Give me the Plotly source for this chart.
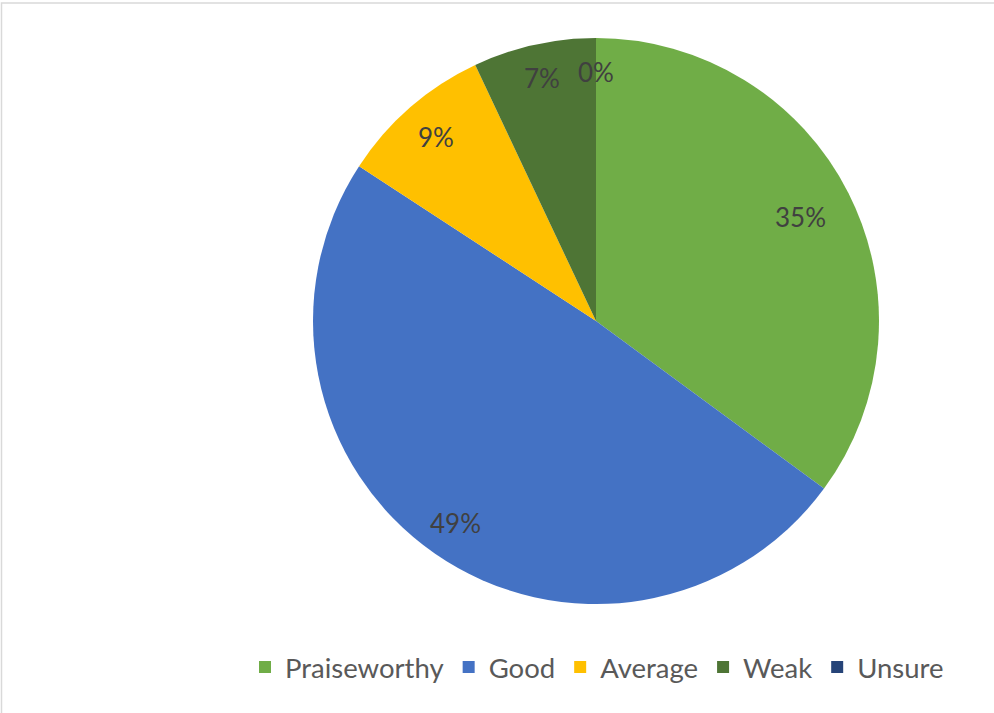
import math
import plotly.graph_objects as go

# ---- data ----
categories = ["Praiseworthy", "Good", "Average", "Weak", "Unsure"]
counts = [20, 28, 5, 4, 0]

# ---- style ----
colors = ["#70AD47", "#4472C4", "#FFC000", "#4E7535", "#264478"]
label_radius_frac = [0.81, 0.87, 0.86, 0.88, 0.88]
W, H = 994, 713
DOMAIN_X = [313 / W, 879 / W]
DOMAIN_Y = [1 - 604 / H, 1 - 38 / H]
FONT = "Lato"

fig = go.Figure()
fig.add_trace(go.Pie(
    labels=categories,
    values=counts,
    sort=False,
    direction="clockwise",
    rotation=0,
    marker=dict(colors=colors, line=dict(color="white", width=0)),
    textinfo="none",
    hoverinfo="label+percent",
    domain=dict(x=DOMAIN_X, y=DOMAIN_Y),
))

# data labels placed along slice bisectors
total = sum(counts)
cx = (DOMAIN_X[0] + DOMAIN_X[1]) / 2
cy = (DOMAIN_Y[0] + DOMAIN_Y[1]) / 2
rx = (DOMAIN_X[1] - DOMAIN_X[0]) / 2
ry = (DOMAIN_Y[1] - DOMAIN_Y[0]) / 2
cum = 0
for v, f in zip(counts, label_radius_frac):
    mid = (cum + v / 2) / total * 2 * math.pi
    cum += v
    fig.add_annotation(
        x=cx + rx * f * math.sin(mid),
        y=cy + ry * f * math.cos(mid),
        xref="paper", yref="paper",
        text=f"{round(100 * v / total)}%",
        showarrow=False,
        font=dict(family=FONT, size=26, color="#404040"),
        xanchor="center", yanchor="middle",
    )

# chart border (top/left visible)
fig.add_shape(type="rect", xref="paper", yref="paper",
              x0=1.5 / W, x1=1.05, y0=-0.05, y1=1 - 3 / H,
              line=dict(color="#D9D9D9", width=1.5), layer="below")

fig.update_layout(
    width=W, height=H,
    margin=dict(l=0, r=0, t=0, b=0),
    paper_bgcolor="white",
    plot_bgcolor="white",
    showlegend=True,
    legend=dict(
        orientation="h",
        x=597 / W, xanchor="center",
        y=1 - 667 / H, yanchor="middle",
        font=dict(family=FONT, size=27.5, color="#595959"),
        itemsizing="constant",
        traceorder="normal",
    ),
)

fig.write_html(
    "out.html",
    config={"displayModeBar": False},
    post_script="document.body.style.margin='0';document.body.style.overflow='hidden';",
)
